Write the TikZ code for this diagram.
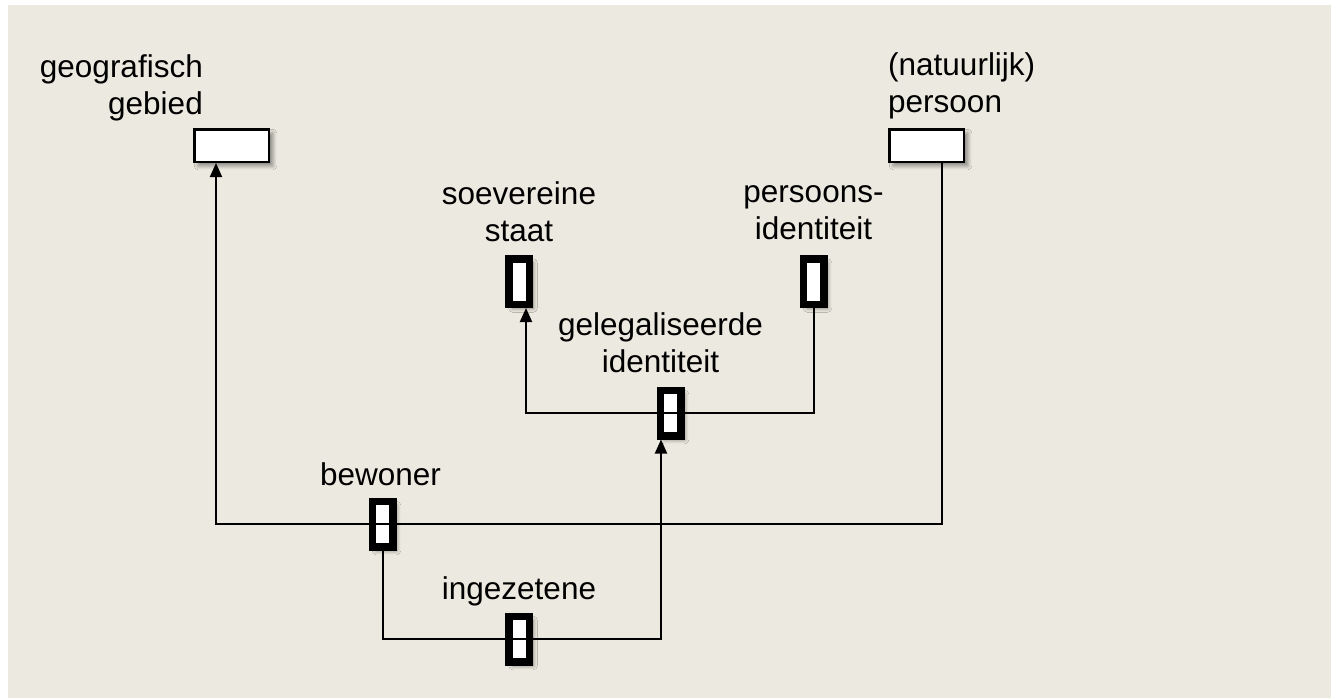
\documentclass[tikz,border=0pt]{standalone}
\usepackage{fontspec}
\setmainfont{Liberation Sans}
\usetikzlibrary{positioning,shadows.blur,arrows.meta}
\definecolor{paper}{RGB}{236,233,224}

\begin{document}
\begin{tikzpicture}
[
  x=1pt, y=-1pt,
  boxshadow/.style={blur shadow={shadow xshift=4pt, shadow yshift=-4pt, shadow blur radius=4pt, shadow blur steps=8, shadow opacity=45}},
  entity/.style={rectangle, draw, line width=2.5pt, fill=white, minimum width=74.5pt, minimum height=32.5pt, inner sep=0pt, boxshadow},
  role/.style={rectangle, draw, line width=7.5pt, fill=white, minimum width=20.5pt, minimum height=45.5pt, inner sep=0pt, boxshadow},
  lbl/.style={inner sep=0pt, text depth=0pt, font=\fontsize{31.5}{37}\selectfont},
  conn/.style={line width=2pt},
  >={Triangle[width=12pt,length=14pt]}
]
 \useasboundingbox (0,0) rectangle (1331,697);
 \fill[paper] (8,5) rectangle (1340,706);

 % object types
 \node[entity] (geo) at (231.5,145.5) {};
 \node[entity] (per) at (926.5,145.5) {};

 % roles
 \node[role] (sta) at (519,281.5) {};
 \node[role] (pid) at (813.5,281.5) {};
 \node[role] (gel) at (670.5,413) {};
 \node[role] (bew) at (382.5,524) {};
 \node[role] (ing) at (519,639) {};

 % labels
 \node[lbl, align=right] (geolbl) [above left=13pt and -10pt of geo.north west] {geografisch\\gebied};
 \node[lbl, align=left] (perlbl) [above right=15pt and 0pt of per.north west] {(natuurlijk)\\persoon};
 \node[lbl, align=center] (stalbl) [above=13pt of sta] {soevereine\\staat};
 \node[lbl, align=center] (pidlbl) [above=15pt of pid] {persoons-\\identiteit};
 \node[lbl, align=center] (gellbl) [above=14pt of gel, xshift=-10pt] {gelegaliseerde\\identiteit};
 \node[lbl] (bewlbl) [above=12pt of bew, xshift=-2pt] {bewoner};
 \node[lbl] (inglbl) [above=13pt of ing] {ingezetene};

 % connectors
 \draw[conn,->] (bew.center) -| ([xshift=-15.5pt]geo.south);
 \draw[conn] (bew.center) -| ([xshift=15.5pt]per.south);
 \draw[conn] (bew.south) |- (ing.center);
 \draw[conn,->] (ing.center) -| ([xshift=-9.5pt]gel.south);
 \draw[conn,->] (gel.center) -| ([xshift=7pt]sta.south);
 \draw[conn] (gel.center) -| (pid.south);
\end{tikzpicture}
\end{document}
